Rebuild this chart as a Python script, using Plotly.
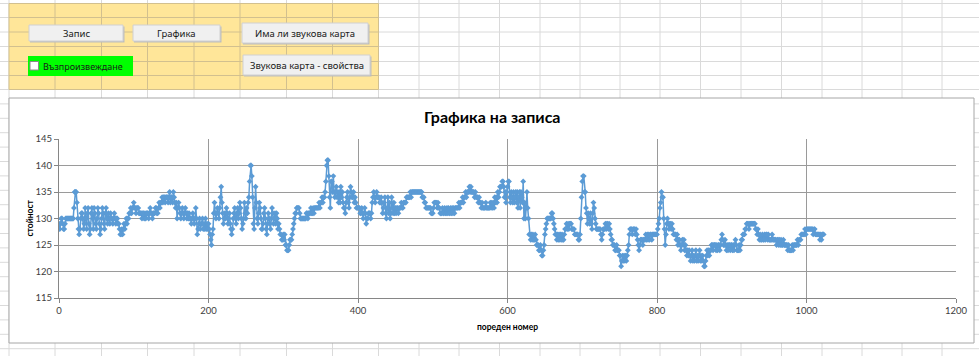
import plotly.graph_objects as go

W, H = 979, 356

# Recorded sample values, in blocks of 128 samples
block_0 = [129, 128, 129, 130, 130, 129, 128, 128, 129, 130,
           130, 130, 130, 130, 130, 130, 130, 130, 130, 130,
           132, 135, 135, 135, 133, 130, 128,
           127, 128, 130, 131,
           131, 130, 128, 129, 132, 130, 128, 131, 132, 129, 127, 128, 131, 132, 130, 128, 132, 131, 129, 128,
           130, 132, 131, 129, 127, 128, 130, 132, 131, 129, 128, 131, 132, 130, 129, 131, 130, 129, 131, 130,
           130, 129, 130, 131, 130, 129, 130, 130, 129, 129,
           128, 127, 127, 128, 127, 128,
           129, 128, 129, 130, 129, 130, 130, 131, 131, 132,
           131, 132, 132, 133, 132, 132, 131, 132, 132, 132, 131, 131, 131, 131,
           130, 131, 131, 130, 131, 130, 131, 131, 131, 130, 131, 132, 131, 131, 130, 131, 131]
block_1 = [131, 132, 132, 131, 131, 132, 133, 132, 133, 133, 134, 133, 134, 134, 133, 134,
           134, 134, 133, 134, 135, 133, 134, 134, 133, 135, 134, 133, 132, 133, 130, 132, 133,
           132, 131, 130, 131, 132, 131, 130, 131, 132, 131, 130, 131, 130, 131, 130,
           130, 129, 130, 131, 130, 129, 130, 132, 130, 127, 128, 129, 130, 128, 129,
           129, 130, 128, 129, 128, 130, 128, 129, 128, 129, 128, 127, 126, 125, 127,
           128, 131, 133, 131, 130, 131, 132, 131, 130, 132, 134, 136, 133, 131, 129,
           130, 131, 130, 132, 131, 129, 130, 131, 129, 128, 127, 128, 130, 131, 132, 130, 129, 131, 132, 130,
           131, 133, 132, 130, 128, 129, 130, 133, 131, 130, 132, 131, 133, 134, 137]
block_2 = [140, 140, 138, 134, 129, 128, 132, 136, 133, 130,
           129, 131, 133, 132, 130, 128, 128, 129, 131, 132, 130, 128, 127, 129, 131,
           130, 129, 128, 130, 132, 131, 129, 130, 131, 129, 131, 130, 128, 129, 128,
           127, 127, 126, 126, 127, 126, 127, 125, 125, 124, 124, 124, 125, 126, 126,
           126, 127, 128, 129, 130, 131, 131, 132, 132, 132, 132, 131, 130, 130, 130,
           130, 130, 130, 130, 130, 131, 131, 130, 131, 131, 131, 132, 131, 131, 132, 131, 132, 132, 132, 132,
           132, 132, 133, 132, 133, 133, 134, 133, 134, 134, 135, 137, 140, 141, 141, 138, 134, 132, 137, 137,
           135, 138, 135, 134, 135, 136, 134, 135, 133, 135, 133, 136, 134, 135, 133, 132, 132, 131]
block_3 = [133, 134, 135, 133, 132, 134, 136, 135, 134, 134, 135, 133, 134, 133, 132, 132,
           132, 132, 132, 131, 131, 132, 131, 130, 131, 132, 131, 129, 130, 130, 131, 131,
           131, 130, 131, 133, 134, 135, 134, 133, 134, 135, 134, 134, 134, 133, 133, 134,
           133, 131, 132, 133, 134, 131, 130, 132, 134, 131, 133, 130, 131, 134, 132, 131,
           133, 131, 132, 131, 132, 132, 131, 132, 132, 132, 133, 132, 132, 133, 133, 133,
           133, 134, 134, 134, 134, 134, 135, 134, 135, 135, 135, 135, 135, 135, 135, 135,
           135, 135, 135, 135, 135, 135, 134, 134, 134, 133, 133, 132, 132, 132, 132, 132,
           132, 132, 131, 131, 131, 132, 133, 133, 133, 133, 132, 133, 132, 132, 131, 131]
block_4 = [131, 132, 131, 131, 132, 131, 131, 132, 131, 132, 131, 131, 132, 131, 132, 131,
           132, 131, 132, 132, 132, 132, 132, 133, 132, 133, 133, 133, 134, 133, 134, 134,
           135, 134, 135, 135, 135, 136, 135, 136, 135, 135, 135, 135, 134, 135, 134, 134,
           134, 133, 134, 133, 133, 132, 133, 132, 132, 132, 132, 133, 132, 132, 132, 132,
           132, 133, 132, 133, 132, 133, 132, 134, 133, 134, 133, 135, 134, 135, 136, 136,
           136, 137, 137, 136, 134, 135, 133, 135, 136, 137, 137, 134, 133, 135, 134, 133,
           135, 133, 134, 135, 133, 135, 132, 134, 135, 132, 135, 134, 133, 137, 130, 133,
           130, 132, 135, 132, 130, 127, 127, 126, 127, 126, 127, 126, 126, 127, 126, 125]
block_5 = [125, 125, 124, 124, 125, 124, 123, 123, 124, 125, 127, 128, 129, 130, 130, 130,
           130, 130, 130, 131, 131, 130, 129, 128, 127, 127, 126, 127, 126, 127, 126, 127,
           126, 127, 126, 126, 127, 128, 128, 129, 128, 129, 128, 129, 129, 129, 128, 128,
           128, 128, 127, 127, 127, 127, 127, 126, 126, 127, 130, 134, 137, 138, 138, 135,
           135, 132, 131, 129, 131, 130, 129, 131, 129, 128, 131, 133, 132, 130, 129, 128,
           128, 128, 128, 128, 128, 127, 126, 127, 128, 128, 128, 129, 128, 129, 129, 128,
           129, 128, 127, 126, 126, 125, 125, 125, 124, 124, 125, 124, 124, 124, 123, 123,
           121, 122, 123, 122, 123, 122, 123, 122, 123, 124, 125, 127, 128, 128, 128, 127]
block_6 = [128, 128, 128, 127, 128, 127, 126, 125, 124, 125, 126, 126, 126, 125, 126, 126,
           126, 127, 126, 127, 126, 127, 126, 127, 127, 126, 127, 127, 127, 127, 127, 127,
           127, 128, 129, 130, 132, 133, 135, 134, 134, 130, 128, 125, 127, 129, 130, 129,
           128, 129, 129, 128, 129, 128, 127, 127, 127, 127, 126, 127, 125, 126, 126, 125,
           124, 125, 126, 125, 126, 124, 125, 124, 123, 124, 123, 124, 123, 122, 123, 124,
           122, 123, 122, 123, 124, 122, 123, 122, 123, 124, 122, 123, 122, 123, 122, 121,
           121, 122, 123, 124, 123, 124, 123, 124, 124, 125, 125, 124, 125, 125, 125, 124,
           125, 124, 125, 125, 124, 125, 126, 127, 126, 125, 125, 126, 125, 124, 125, 124]
block_7 = [125, 125, 124, 125, 125, 124, 125, 124, 125, 126, 125, 124, 124, 124, 125, 124,
           125, 126, 126, 127, 127, 127, 128, 128, 129, 129, 129, 128, 129, 129, 129, 129,
           129, 129, 129, 129, 128, 128, 127, 128, 127, 126, 127, 126, 126, 127, 126, 126,
           127, 126, 127, 127, 126, 127, 126, 126, 126, 126, 127, 126, 126, 126, 126, 126,
           125, 126, 126, 125, 126, 125, 126, 125, 125, 126, 125, 125, 125, 125, 125, 124,
           125, 124, 124, 124, 124, 125, 124, 125, 125, 125, 125, 125, 126, 125, 126, 126,
           126, 127, 127, 127, 127, 127, 128, 127, 128, 128, 128, 128, 128, 128, 128, 128,
           128, 127, 128, 128, 127, 127, 127, 127, 127, 127, 126, 127, 126, 127, 127, 127]

values = block_0 + block_1 + block_2 + block_3 + block_4 + block_5 + block_6 + block_7
sample_no = list(range(len(values)))

x_ticks = [0, 200, 400, 600, 800, 1000, 1200]
y_ticks = [115, 120, 125, 130, 135, 140, 145]

chart_title = "Графика на записа"
x_title = "пореден номер"
y_title = "стойност"
buttons = ["Запис", "Графика", "Има ли звукова карта", "Звукова карта - свойства"]
checkbox_label = "Възпроизвеждане"


def fx(px):
    return px / W


def fy(py):
    return 1 - py / H


def rect(x0, y0, x1, y1, fill, line=None, width=1):
    return dict(type="rect", xref="paper", yref="paper", layer="below",
                x0=fx(x0), x1=fx(x1), y0=fy(y1), y1=fy(y0),
                fillcolor=fill,
                line=dict(color=line or "rgba(0,0,0,0)", width=width if line else 0))


def hline(y, x0, x1, color):
    return dict(type="line", xref="paper", yref="paper", layer="below",
                x0=fx(x0), x1=fx(x1), y0=fy(y), y1=fy(y),
                line=dict(color=color, width=1))


def vline(x, y0, y1, color):
    return dict(type="line", xref="paper", yref="paper", layer="below",
                x0=fx(x), x1=fx(x), y0=fy(y0), y1=fy(y1),
                line=dict(color=color, width=1))


# worksheet cell grid
col_edges = [9, 55, 101.5, 147.5, 194, 240, 286.5, 332.5, 378.5,
             419, 459, 499.5, 540, 580, 620, 660, 700.5, 741, 781.5, 822, 862, 902, 942]
row_edges = [3.5, 17.5, 32, 46.5, 61.5, 75.5, 89.5]
r = 89.5
while r < H:
    r += 14.4
    row_edges.append(round(r, 1))

shapes = []
for c in col_edges:
    shapes.append(vline(c, 0, H, "#DADADA"))
for rr in row_edges:
    shapes.append(hline(rr, 0, W, "#DADADA"))

# yellow control panel
shapes.append(rect(9, 3.5, 378.5, 89.5, "#FFE699"))
for c in col_edges[:9]:
    shapes.append(vline(c, 3.5, 89.5, "#D2C08F"))
for rr in row_edges[:7]:
    shapes.append(hline(rr, 9, 378.5, "#D2C08F"))

# form buttons
button_boxes = [(29, 25, 123, 41), (133, 25, 220, 41), (242, 23, 368, 43), (243, 55, 370, 75)]
for (x0, y0, x1, y1) in button_boxes:
    shapes.append(rect(x0 + 1, y0 + 1.5, x1 + 1.5, y1 + 1.5, "#BEBEBE"))
    shapes.append(rect(x0, y0, x1, y1, "#F0F0F0", "#D0D0D0"))

# checkbox control
shapes.append(rect(28, 56, 133, 76, "#00FF00"))
shapes.append(rect(30, 61.5, 38.5, 70, "#FFFFFF", "#8A8A8A"))

# chart frame
shapes.append(rect(9, 98, 974, 343, "#FFFFFF", "#A6A6A6"))

annotations = []
for label, (x0, y0, x1, y1) in zip(buttons, button_boxes):
    annotations.append(dict(xref="paper", yref="paper", x=fx((x0 + x1) / 2), y=fy((y0 + y1) / 2),
                            text=label, showarrow=False, xanchor="center", yanchor="middle",
                            font=dict(family="Noto Sans", size=9.5, color="#1A1A1A")))
annotations.append(dict(xref="paper", yref="paper", x=fx(40.5), y=fy(66), text=checkbox_label,
                        showarrow=False, xanchor="left", yanchor="middle",
                        font=dict(family="Noto Sans", size=9, color="#1A1A1A")))
annotations.append(dict(xref="paper", yref="paper", x=fx(492), y=fy(117), text="<b>" + chart_title + "</b>",
                        showarrow=False, xanchor="center", yanchor="middle",
                        font=dict(family="Lato", size=16, color="#000000")))
annotations.append(dict(xref="paper", yref="paper", x=fx(507.5), y=fy(327), text="<b>" + x_title + "</b>",
                        showarrow=False, xanchor="center", yanchor="middle",
                        font=dict(family="Lato", size=8.5, color="#000000")))
annotations.append(dict(xref="paper", yref="paper", x=fx(29), y=fy(218.5), text="<b>" + y_title + "</b>",
                        showarrow=False, xanchor="center", yanchor="middle", textangle=-90,
                        font=dict(family="Lato", size=8.5, color="#000000")))

fig = go.Figure()
fig.add_trace(go.Scatter(
    x=sample_no, y=values, mode="lines+markers",
    line=dict(color="#5B9BD5", width=1.5),
    marker=dict(symbol="diamond", size=4.5, color="#5B9BD5"),
    showlegend=False, hoverinfo="x+y",
))

axis_font = dict(family="Lato", size=9.5, color="#404040")
fig.update_layout(
    width=W, height=H, autosize=False,
    margin=dict(l=0, r=0, t=0, b=0, pad=0),
    paper_bgcolor="#FFFFFF", plot_bgcolor="rgba(0,0,0,0)",
    shapes=shapes, annotations=annotations,
    xaxis=dict(domain=[fx(59), fx(956)], range=[0, 1200], tickvals=x_ticks, automargin=False,
               showgrid=True, gridcolor="#9A9A9A", gridwidth=1, zeroline=False,
               showline=True, linecolor="#868686", linewidth=1,
               ticks="outside", ticklen=4, tickcolor="#868686", tickfont=axis_font),
    yaxis=dict(domain=[fy(298), fy(139)], range=[115, 145], tickvals=y_ticks, automargin=False,
               showgrid=True, gridcolor="#9A9A9A", gridwidth=1, zeroline=False,
               showline=True, linecolor="#868686", linewidth=1,
               ticks="outside", ticklen=4, tickcolor="#868686", tickfont=axis_font),
)

fig.write_html("out.html")
